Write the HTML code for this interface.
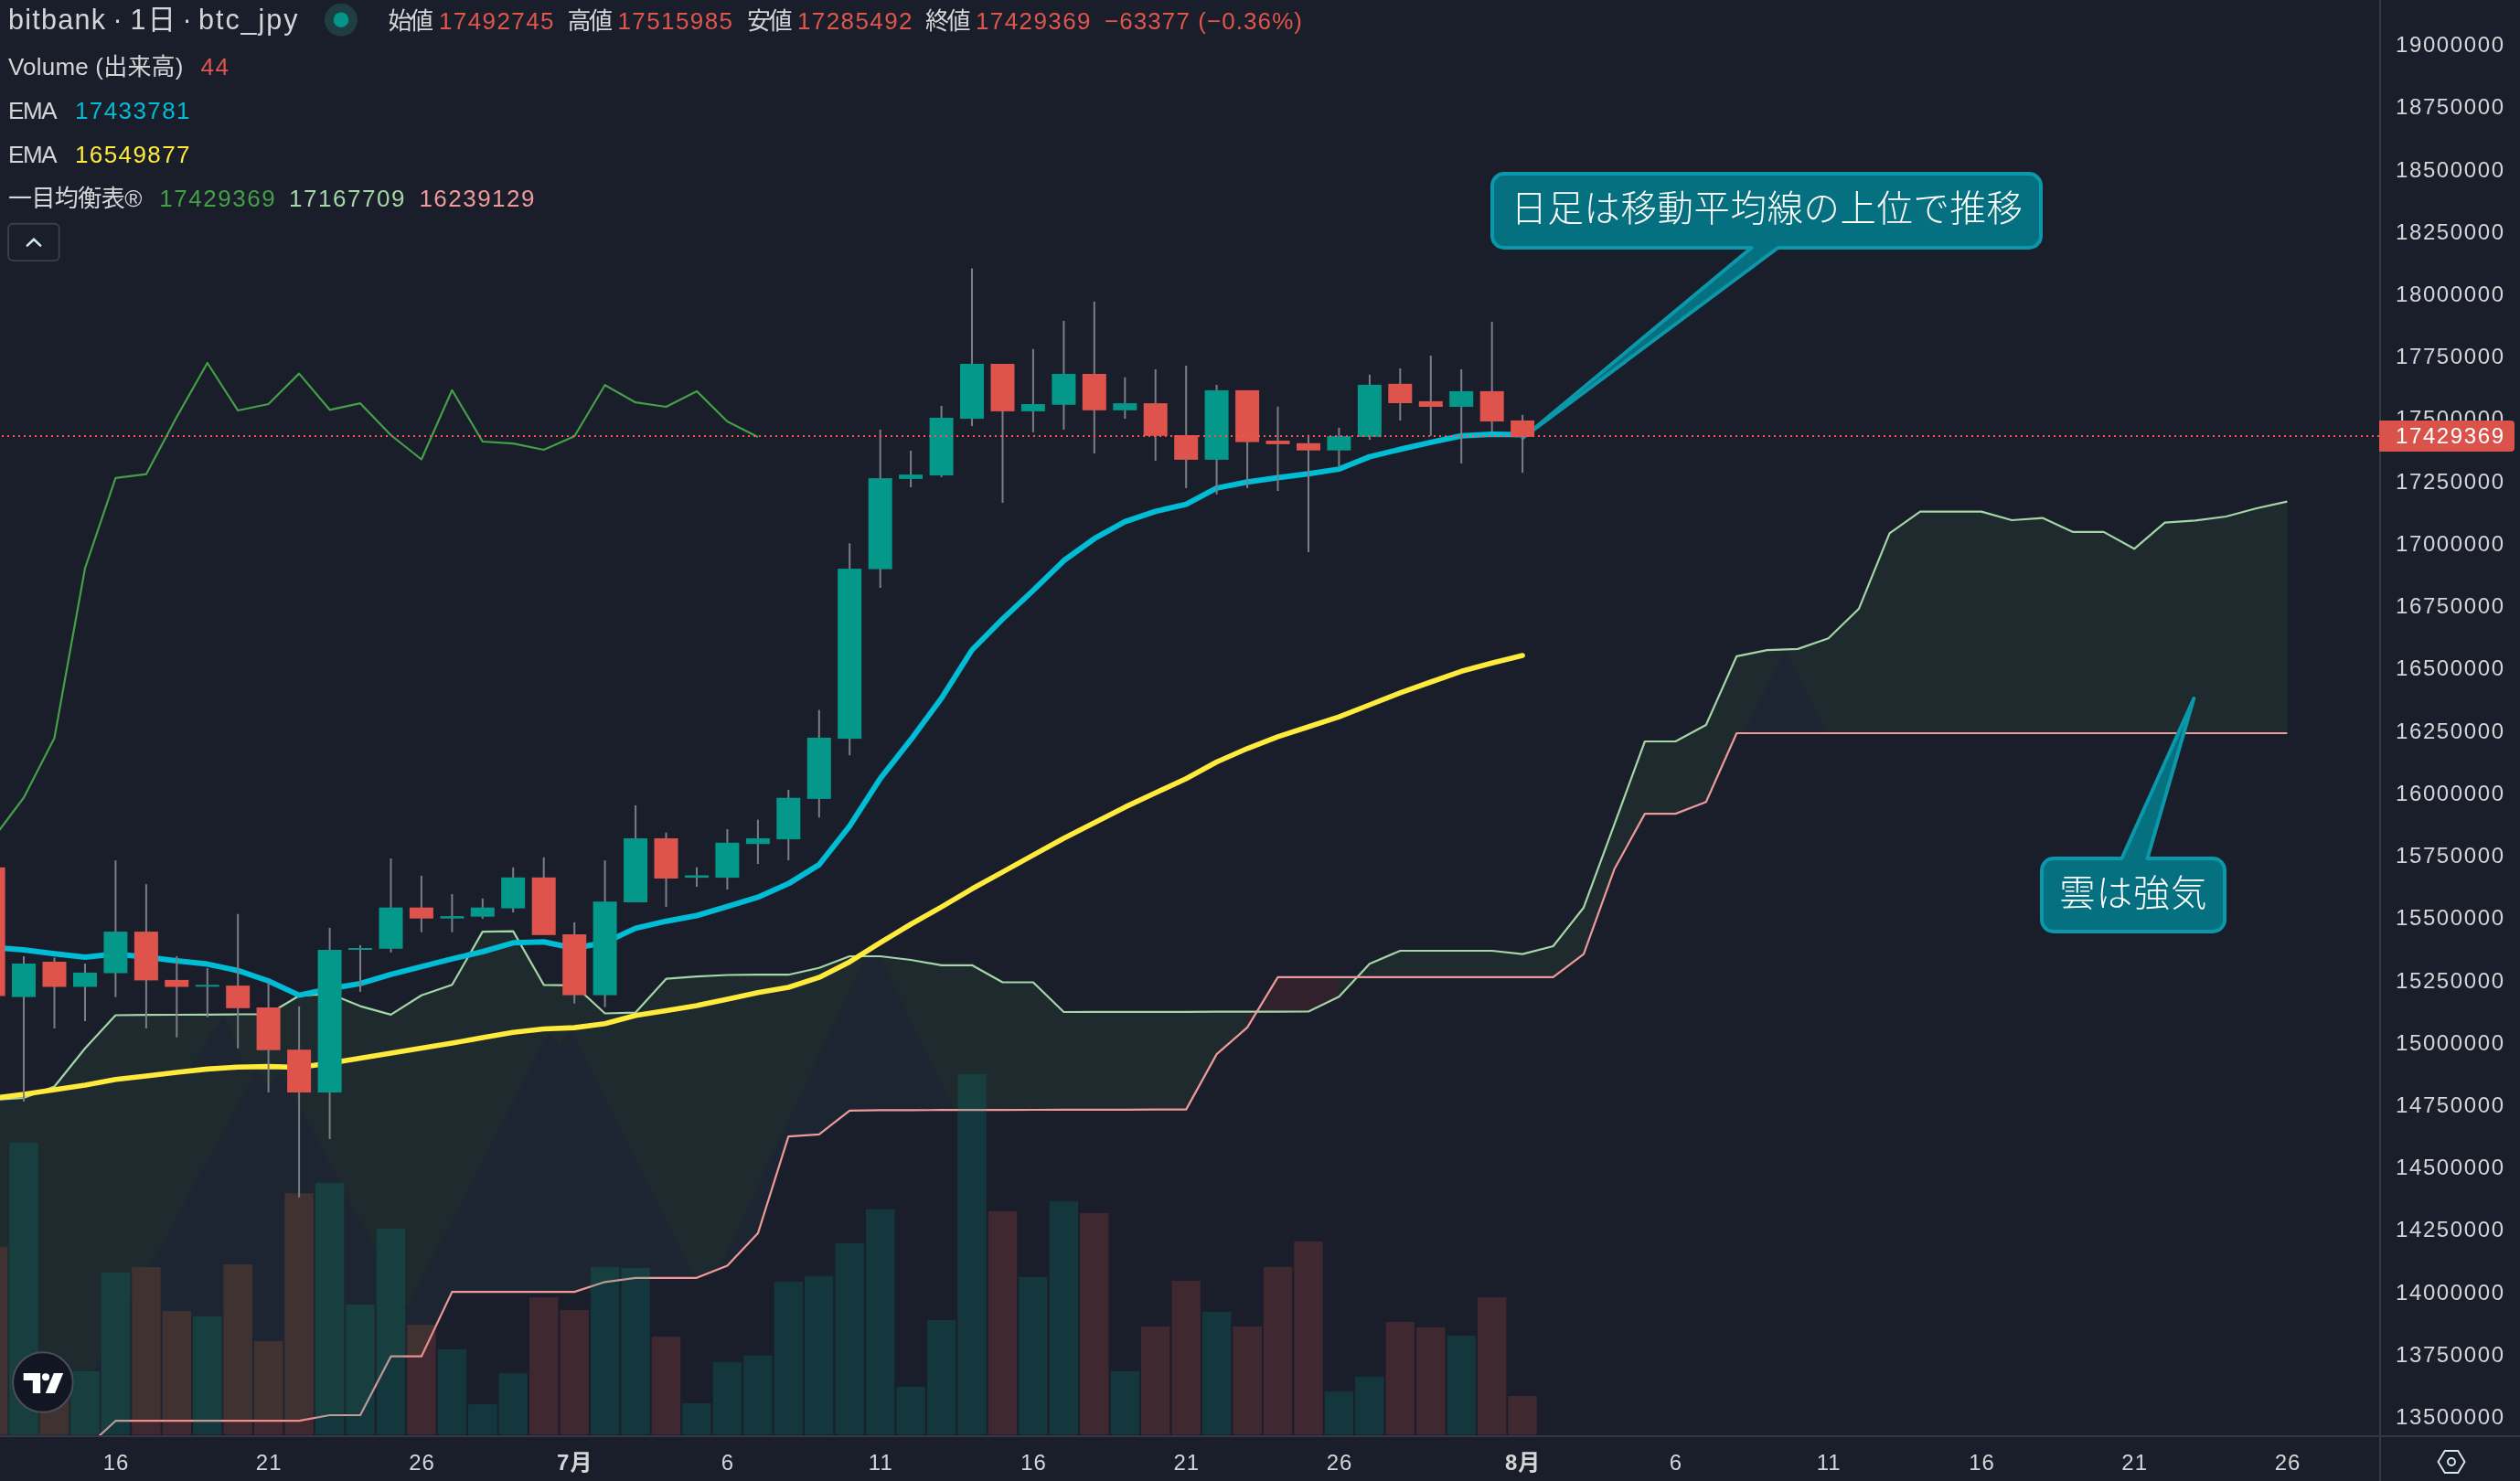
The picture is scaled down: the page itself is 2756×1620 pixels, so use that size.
<!DOCTYPE html>
<html lang="ja"><head><meta charset="utf-8"><title>bitbank btc_jpy</title>
<style>html,body{margin:0;padding:0;background:#1a1e2b}body{width:2756px;height:1620px}svg{display:block}text{font-family:"Liberation Sans","Noto Sans CJK JP",sans-serif}</style></head><body>
<div style="width:2756px;height:1620px;will-change:transform">
<svg width="2756" height="1620" viewBox="0 0 2756 1620">
<defs><clipPath id="pane"><rect x="0" y="0" width="2602" height="1570"/></clipPath>
<clipPath id="cloudclip"><polygon points="-7.4,1203.0 26.0,1201.0 59.5,1188.5 93.0,1146.8 126.4,1110.5 159.9,1110.2 193.3,1110.0 226.8,1109.8 260.2,1109.5 293.6,1109.3 327.1,1089.3 360.6,1087.0 394.0,1100.6 427.5,1109.9 460.9,1088.8 494.4,1077.3 527.8,1019.1 561.2,1018.6 594.7,1077.3 628.2,1077.8 661.6,1108.5 695.1,1107.6 728.5,1070.7 762.0,1068.2 795.4,1066.5 828.9,1066.2 862.3,1066.2 895.8,1058.8 929.2,1046.0 962.7,1046.0 996.1,1050.0 1029.6,1055.8 1063.0,1055.8 1096.5,1074.5 1129.9,1074.5 1163.4,1107.0 1196.8,1106.9 1230.3,1106.9 1263.7,1106.8 1297.2,1106.8 1330.6,1106.7 1364.1,1106.7 1397.5,1106.6 1431.0,1106.5 1464.4,1090.3 1497.9,1054.2 1531.3,1040.0 1564.8,1040.0 1598.2,1040.0 1631.7,1040.0 1665.1,1043.6 1698.6,1035.0 1732.0,992.7 1765.5,901.9 1798.9,811.0 1832.4,811.0 1865.8,793.0 1899.3,717.8 1932.7,711.1 1966.2,709.9 1999.6,698.2 2033.1,665.7 2066.5,583.4 2100.0,559.6 2133.4,559.6 2166.9,559.6 2200.3,569.0 2233.8,566.6 2267.2,581.9 2300.7,581.9 2334.1,600.3 2367.6,571.7 2401.0,569.3 2434.5,565.0 2467.9,556.0 2501.4,548.6 2501.4,802.0 2467.9,802.0 2434.5,802.0 2401.0,802.0 2367.6,802.0 2334.1,802.0 2300.7,802.0 2267.2,802.0 2233.8,802.0 2200.3,802.0 2166.9,802.0 2133.4,802.0 2100.0,802.0 2066.5,802.0 2033.1,802.0 1999.6,802.0 1966.2,802.0 1932.7,802.0 1899.3,802.0 1865.8,877.2 1832.4,890.1 1798.9,890.1 1765.5,950.8 1732.0,1043.6 1698.6,1068.9 1665.1,1068.9 1631.7,1068.9 1598.2,1068.9 1564.8,1068.9 1531.3,1068.9 1497.9,1068.9 1464.4,1068.9 1431.0,1068.9 1397.5,1068.9 1364.1,1123.9 1330.6,1153.1 1297.2,1213.6 1263.7,1213.7 1230.3,1213.8 1196.8,1213.8 1163.4,1213.9 1129.9,1214.0 1096.5,1214.1 1063.0,1214.2 1029.6,1214.2 996.1,1214.3 962.7,1214.4 929.2,1214.8 895.8,1240.8 862.3,1243.1 828.9,1349.1 795.4,1384.4 762.0,1397.8 728.5,1397.8 695.1,1397.8 661.6,1402.3 628.2,1413.1 594.7,1413.1 561.2,1413.1 527.8,1413.1 494.4,1413.1 460.9,1483.7 427.5,1483.7 394.0,1548.0 360.6,1548.0 327.1,1554.2 293.6,1554.2 260.2,1554.2 226.8,1554.2 193.3,1554.2 159.9,1554.2 126.4,1554.2 93.0,1585.0 59.5,1620.0 26.0,1660.0 -7.4,1700.0"/></clipPath>
<mask id="novol"><rect x="0" y="0" width="2756" height="1620" fill="#fff"/>
<rect x="-23.1" y="1363.7" width="31.4" height="205.6" fill="#000"/>
<rect x="10.3" y="1249.9" width="31.4" height="319.4" fill="#000"/>
<rect x="43.8" y="1510.0" width="31.4" height="59.3" fill="#000"/>
<rect x="77.2" y="1499.9" width="31.4" height="69.4" fill="#000"/>
<rect x="110.7" y="1392.0" width="31.4" height="177.3" fill="#000"/>
<rect x="144.2" y="1386.0" width="31.4" height="183.3" fill="#000"/>
<rect x="177.6" y="1434.0" width="31.4" height="135.3" fill="#000"/>
<rect x="211.1" y="1439.9" width="31.4" height="129.4" fill="#000"/>
<rect x="244.5" y="1382.9" width="31.4" height="186.4" fill="#000"/>
<rect x="277.9" y="1466.9" width="31.4" height="102.4" fill="#000"/>
<rect x="311.4" y="1305.2" width="31.4" height="264.1" fill="#000"/>
<rect x="344.9" y="1293.9" width="31.4" height="275.4" fill="#000"/>
<rect x="378.3" y="1426.9" width="31.4" height="142.4" fill="#000"/>
<rect x="411.8" y="1343.8" width="31.4" height="225.5" fill="#000"/>
<rect x="445.2" y="1449.2" width="31.4" height="120.1" fill="#000"/>
<rect x="478.7" y="1475.8" width="31.4" height="93.5" fill="#000"/>
<rect x="512.1" y="1536.1" width="31.4" height="33.2" fill="#000"/>
<rect x="545.5" y="1502.1" width="31.4" height="67.2" fill="#000"/>
<rect x="579.0" y="1419.0" width="31.4" height="150.3" fill="#000"/>
<rect x="612.5" y="1433.1" width="31.4" height="136.2" fill="#000"/>
<rect x="645.9" y="1386.1" width="31.4" height="183.2" fill="#000"/>
<rect x="679.4" y="1386.9" width="31.4" height="182.4" fill="#000"/>
<rect x="712.8" y="1462.1" width="31.4" height="107.2" fill="#000"/>
<rect x="746.2" y="1535.0" width="31.4" height="34.3" fill="#000"/>
<rect x="779.7" y="1489.9" width="31.4" height="79.4" fill="#000"/>
<rect x="813.1" y="1482.8" width="31.4" height="86.5" fill="#000"/>
<rect x="846.6" y="1401.9" width="31.4" height="167.4" fill="#000"/>
<rect x="880.0" y="1395.7" width="31.4" height="173.6" fill="#000"/>
<rect x="913.5" y="1360.0" width="31.4" height="209.3" fill="#000"/>
<rect x="947.0" y="1322.8" width="31.4" height="246.5" fill="#000"/>
<rect x="980.4" y="1516.8" width="31.4" height="52.5" fill="#000"/>
<rect x="1013.9" y="1443.9" width="31.4" height="125.4" fill="#000"/>
<rect x="1047.3" y="1174.9" width="31.4" height="394.4" fill="#000"/>
<rect x="1080.8" y="1324.9" width="31.4" height="244.4" fill="#000"/>
<rect x="1114.2" y="1396.9" width="31.4" height="172.4" fill="#000"/>
<rect x="1147.7" y="1313.9" width="31.4" height="255.4" fill="#000"/>
<rect x="1181.1" y="1326.8" width="31.4" height="242.5" fill="#000"/>
<rect x="1214.6" y="1499.9" width="31.4" height="69.4" fill="#000"/>
<rect x="1248.0" y="1450.9" width="31.4" height="118.4" fill="#000"/>
<rect x="1281.5" y="1400.9" width="31.4" height="168.4" fill="#000"/>
<rect x="1314.9" y="1434.9" width="31.4" height="134.4" fill="#000"/>
<rect x="1348.4" y="1450.9" width="31.4" height="118.4" fill="#000"/>
<rect x="1381.8" y="1385.9" width="31.4" height="183.4" fill="#000"/>
<rect x="1415.3" y="1358.0" width="31.4" height="211.3" fill="#000"/>
<rect x="1448.7" y="1522.1" width="31.4" height="47.2" fill="#000"/>
<rect x="1482.2" y="1505.8" width="31.4" height="63.5" fill="#000"/>
<rect x="1515.6" y="1446.0" width="31.4" height="123.3" fill="#000"/>
<rect x="1549.1" y="1451.9" width="31.4" height="117.4" fill="#000"/>
<rect x="1582.5" y="1461.0" width="31.4" height="108.3" fill="#000"/>
<rect x="1616.0" y="1418.9" width="31.4" height="150.4" fill="#000"/>
<rect x="1649.4" y="1527.0" width="31.4" height="42.3" fill="#000"/>
</mask>
</defs>
<g clip-path="url(#pane)">
<polygon points="-7.4,1203.0 26.0,1201.0 59.5,1188.5 93.0,1146.8 126.4,1110.5 159.9,1110.2 193.3,1110.0 226.8,1109.8 260.2,1109.5 293.6,1109.3 327.1,1089.3 360.6,1087.0 394.0,1100.6 427.5,1109.9 460.9,1088.8 494.4,1077.3 527.8,1019.1 561.2,1018.6 594.7,1077.3 628.2,1077.8 661.6,1108.5 695.1,1107.6 728.5,1070.7 762.0,1068.2 795.4,1066.5 828.9,1066.2 862.3,1066.2 895.8,1058.8 929.2,1046.0 962.7,1046.0 996.1,1050.0 1029.6,1055.8 1063.0,1055.8 1096.5,1074.5 1129.9,1074.5 1163.4,1107.0 1196.8,1106.9 1230.3,1106.9 1263.7,1106.8 1297.2,1106.8 1330.6,1106.7 1364.1,1106.7 1364.1,1123.9 1330.6,1153.1 1297.2,1213.6 1263.7,1213.7 1230.3,1213.8 1196.8,1213.8 1163.4,1213.9 1129.9,1214.0 1096.5,1214.1 1063.0,1214.2 1029.6,1214.2 996.1,1214.3 962.7,1214.4 929.2,1214.8 895.8,1240.8 862.3,1243.1 828.9,1349.1 795.4,1384.4 762.0,1397.8 728.5,1397.8 695.1,1397.8 661.6,1402.3 628.2,1413.1 594.7,1413.1 561.2,1413.1 527.8,1413.1 494.4,1413.1 460.9,1483.7 427.5,1483.7 394.0,1548.0 360.6,1548.0 327.1,1554.2 293.6,1554.2 260.2,1554.2 226.8,1554.2 193.3,1554.2 159.9,1554.2 126.4,1554.2 93.0,1585.0 59.5,1620.0 26.0,1660.0 -7.4,1700.0" fill="rgba(67,160,71,0.1)"/>
<polygon points="1364.1,1106.7 1397.5,1106.6 1431.0,1106.5 1464.4,1090.3 1464.4,1068.9 1431.0,1068.9 1397.5,1068.9 1364.1,1123.9" fill="rgba(244,67,54,0.1)"/>
<polygon points="1464.4,1090.3 1497.9,1054.2 1531.3,1040.0 1564.8,1040.0 1598.2,1040.0 1631.7,1040.0 1665.1,1043.6 1698.6,1035.0 1732.0,992.7 1765.5,901.9 1798.9,811.0 1832.4,811.0 1865.8,793.0 1899.3,717.8 1932.7,711.1 1966.2,709.9 1999.6,698.2 2033.1,665.7 2066.5,583.4 2100.0,559.6 2133.4,559.6 2166.9,559.6 2200.3,569.0 2233.8,566.6 2267.2,581.9 2300.7,581.9 2334.1,600.3 2367.6,571.7 2401.0,569.3 2434.5,565.0 2467.9,556.0 2501.4,548.6 2501.4,802.0 2467.9,802.0 2434.5,802.0 2401.0,802.0 2367.6,802.0 2334.1,802.0 2300.7,802.0 2267.2,802.0 2233.8,802.0 2200.3,802.0 2166.9,802.0 2133.4,802.0 2100.0,802.0 2066.5,802.0 2033.1,802.0 1999.6,802.0 1966.2,802.0 1932.7,802.0 1899.3,802.0 1865.8,877.2 1832.4,890.1 1798.9,890.1 1765.5,950.8 1732.0,1043.6 1698.6,1068.9 1665.1,1068.9 1631.7,1068.9 1598.2,1068.9 1564.8,1068.9 1531.3,1068.9 1497.9,1068.9 1464.4,1068.9" fill="rgba(67,160,71,0.1)"/>
<g clip-path="url(#cloudclip)" mask="url(#novol)" fill="rgba(22,27,58,0.27)">
<path d="M244.8,1110.7 L208.3,1167.8 L266.7,1162.9 Z M280.7,1171 L294,1190 L306.8,1172.5 L552.4,1630 L30.6,1630 Z M600.3,1129.3 L612.5,1145 L624.7,1128 L878,1630 L342,1630 Z M945.9,1047.4 L962.9,1047.4 L1245,1630 L673.7,1630 Z M1953.3,711.5 L1899,820 L2007,820 Z"/>
</g>
<polyline points="-7.4,1203.0 26.0,1201.0 59.5,1188.5 93.0,1146.8 126.4,1110.5 159.9,1110.2 193.3,1110.0 226.8,1109.8 260.2,1109.5 293.6,1109.3 327.1,1089.3 360.6,1087.0 394.0,1100.6 427.5,1109.9 460.9,1088.8 494.4,1077.3 527.8,1019.1 561.2,1018.6 594.7,1077.3 628.2,1077.8 661.6,1108.5 695.1,1107.6 728.5,1070.7 762.0,1068.2 795.4,1066.5 828.9,1066.2 862.3,1066.2 895.8,1058.8 929.2,1046.0 962.7,1046.0 996.1,1050.0 1029.6,1055.8 1063.0,1055.8 1096.5,1074.5 1129.9,1074.5 1163.4,1107.0 1196.8,1106.9 1230.3,1106.9 1263.7,1106.8 1297.2,1106.8 1330.6,1106.7 1364.1,1106.7 1397.5,1106.6 1431.0,1106.5 1464.4,1090.3 1497.9,1054.2 1531.3,1040.0 1564.8,1040.0 1598.2,1040.0 1631.7,1040.0 1665.1,1043.6 1698.6,1035.0 1732.0,992.7 1765.5,901.9 1798.9,811.0 1832.4,811.0 1865.8,793.0 1899.3,717.8 1932.7,711.1 1966.2,709.9 1999.6,698.2 2033.1,665.7 2066.5,583.4 2100.0,559.6 2133.4,559.6 2166.9,559.6 2200.3,569.0 2233.8,566.6 2267.2,581.9 2300.7,581.9 2334.1,600.3 2367.6,571.7 2401.0,569.3 2434.5,565.0 2467.9,556.0 2501.4,548.6" fill="none" stroke="#a5d6a7" stroke-width="2.2" stroke-linejoin="round"/>
<polyline points="-7.4,1700.0 26.0,1660.0 59.5,1620.0 93.0,1585.0 126.4,1554.2 159.9,1554.2 193.3,1554.2 226.8,1554.2 260.2,1554.2 293.6,1554.2 327.1,1554.2 360.6,1548.0 394.0,1548.0 427.5,1483.7 460.9,1483.7 494.4,1413.1 527.8,1413.1 561.2,1413.1 594.7,1413.1 628.2,1413.1 661.6,1402.3 695.1,1397.8 728.5,1397.8 762.0,1397.8 795.4,1384.4 828.9,1349.1 862.3,1243.1 895.8,1240.8 929.2,1214.8 962.7,1214.4 996.1,1214.3 1029.6,1214.2 1063.0,1214.2 1096.5,1214.1 1129.9,1214.0 1163.4,1213.9 1196.8,1213.8 1230.3,1213.8 1263.7,1213.7 1297.2,1213.6 1330.6,1153.1 1364.1,1123.9 1397.5,1068.9 1431.0,1068.9 1464.4,1068.9 1497.9,1068.9 1531.3,1068.9 1564.8,1068.9 1598.2,1068.9 1631.7,1068.9 1665.1,1068.9 1698.6,1068.9 1732.0,1043.6 1765.5,950.8 1798.9,890.1 1832.4,890.1 1865.8,877.2 1899.3,802.0 1932.7,802.0 1966.2,802.0 1999.6,802.0 2033.1,802.0 2066.5,802.0 2100.0,802.0 2133.4,802.0 2166.9,802.0 2200.3,802.0 2233.8,802.0 2267.2,802.0 2300.7,802.0 2334.1,802.0 2367.6,802.0 2401.0,802.0 2434.5,802.0 2467.9,802.0 2501.4,802.0" fill="none" stroke="#ef9a9a" stroke-width="2.2" stroke-linejoin="round"/>
<polyline points="-7.4,917.0 26.0,872.5 59.5,807.2 93.0,621.5 126.4,522.9 159.9,518.7 193.3,456.0 226.8,397.0 260.2,449.0 293.6,442.0 327.1,408.6 360.6,448.3 394.0,441.2 427.5,476.0 460.9,502.5 494.4,426.8 527.8,483.0 561.2,485.2 594.7,492.0 628.2,477.2 661.6,421.2 695.1,440.2 728.5,445.0 762.0,427.9 795.4,461.0 828.9,477.9" fill="none" stroke="#43a047" stroke-width="2.2" stroke-linejoin="round"/>
<rect x="-23.1" y="1363.7" width="31.4" height="205.6" fill="rgba(224,83,76,0.19)"/>
<rect x="10.3" y="1249.9" width="31.4" height="319.4" fill="rgba(0,150,136,0.2)"/>
<rect x="43.8" y="1510.0" width="31.4" height="59.3" fill="rgba(224,83,76,0.19)"/>
<rect x="77.2" y="1499.9" width="31.4" height="69.4" fill="rgba(0,150,136,0.2)"/>
<rect x="110.7" y="1392.0" width="31.4" height="177.3" fill="rgba(0,150,136,0.2)"/>
<rect x="144.2" y="1386.0" width="31.4" height="183.3" fill="rgba(224,83,76,0.19)"/>
<rect x="177.6" y="1434.0" width="31.4" height="135.3" fill="rgba(224,83,76,0.19)"/>
<rect x="211.1" y="1439.9" width="31.4" height="129.4" fill="rgba(0,150,136,0.2)"/>
<rect x="244.5" y="1382.9" width="31.4" height="186.4" fill="rgba(224,83,76,0.19)"/>
<rect x="277.9" y="1466.9" width="31.4" height="102.4" fill="rgba(224,83,76,0.19)"/>
<rect x="311.4" y="1305.2" width="31.4" height="264.1" fill="rgba(224,83,76,0.19)"/>
<rect x="344.9" y="1293.9" width="31.4" height="275.4" fill="rgba(0,150,136,0.2)"/>
<rect x="378.3" y="1426.9" width="31.4" height="142.4" fill="rgba(0,150,136,0.2)"/>
<rect x="411.8" y="1343.8" width="31.4" height="225.5" fill="rgba(0,150,136,0.2)"/>
<rect x="445.2" y="1449.2" width="31.4" height="120.1" fill="rgba(224,83,76,0.19)"/>
<rect x="478.7" y="1475.8" width="31.4" height="93.5" fill="rgba(0,150,136,0.2)"/>
<rect x="512.1" y="1536.1" width="31.4" height="33.2" fill="rgba(0,150,136,0.2)"/>
<rect x="545.5" y="1502.1" width="31.4" height="67.2" fill="rgba(0,150,136,0.2)"/>
<rect x="579.0" y="1419.0" width="31.4" height="150.3" fill="rgba(224,83,76,0.19)"/>
<rect x="612.5" y="1433.1" width="31.4" height="136.2" fill="rgba(224,83,76,0.19)"/>
<rect x="645.9" y="1386.1" width="31.4" height="183.2" fill="rgba(0,150,136,0.2)"/>
<rect x="679.4" y="1386.9" width="31.4" height="182.4" fill="rgba(0,150,136,0.2)"/>
<rect x="712.8" y="1462.1" width="31.4" height="107.2" fill="rgba(224,83,76,0.19)"/>
<rect x="746.2" y="1535.0" width="31.4" height="34.3" fill="rgba(0,150,136,0.2)"/>
<rect x="779.7" y="1489.9" width="31.4" height="79.4" fill="rgba(0,150,136,0.2)"/>
<rect x="813.1" y="1482.8" width="31.4" height="86.5" fill="rgba(0,150,136,0.2)"/>
<rect x="846.6" y="1401.9" width="31.4" height="167.4" fill="rgba(0,150,136,0.2)"/>
<rect x="880.0" y="1395.7" width="31.4" height="173.6" fill="rgba(0,150,136,0.2)"/>
<rect x="913.5" y="1360.0" width="31.4" height="209.3" fill="rgba(0,150,136,0.2)"/>
<rect x="947.0" y="1322.8" width="31.4" height="246.5" fill="rgba(0,150,136,0.2)"/>
<rect x="980.4" y="1516.8" width="31.4" height="52.5" fill="rgba(0,150,136,0.2)"/>
<rect x="1013.9" y="1443.9" width="31.4" height="125.4" fill="rgba(0,150,136,0.2)"/>
<rect x="1047.3" y="1174.9" width="31.4" height="394.4" fill="rgba(0,150,136,0.2)"/>
<rect x="1080.8" y="1324.9" width="31.4" height="244.4" fill="rgba(224,83,76,0.19)"/>
<rect x="1114.2" y="1396.9" width="31.4" height="172.4" fill="rgba(0,150,136,0.2)"/>
<rect x="1147.7" y="1313.9" width="31.4" height="255.4" fill="rgba(0,150,136,0.2)"/>
<rect x="1181.1" y="1326.8" width="31.4" height="242.5" fill="rgba(224,83,76,0.19)"/>
<rect x="1214.6" y="1499.9" width="31.4" height="69.4" fill="rgba(0,150,136,0.2)"/>
<rect x="1248.0" y="1450.9" width="31.4" height="118.4" fill="rgba(224,83,76,0.19)"/>
<rect x="1281.5" y="1400.9" width="31.4" height="168.4" fill="rgba(224,83,76,0.19)"/>
<rect x="1314.9" y="1434.9" width="31.4" height="134.4" fill="rgba(0,150,136,0.2)"/>
<rect x="1348.4" y="1450.9" width="31.4" height="118.4" fill="rgba(224,83,76,0.19)"/>
<rect x="1381.8" y="1385.9" width="31.4" height="183.4" fill="rgba(224,83,76,0.19)"/>
<rect x="1415.3" y="1358.0" width="31.4" height="211.3" fill="rgba(224,83,76,0.19)"/>
<rect x="1448.7" y="1522.1" width="31.4" height="47.2" fill="rgba(0,150,136,0.2)"/>
<rect x="1482.2" y="1505.8" width="31.4" height="63.5" fill="rgba(0,150,136,0.2)"/>
<rect x="1515.6" y="1446.0" width="31.4" height="123.3" fill="rgba(224,83,76,0.19)"/>
<rect x="1549.1" y="1451.9" width="31.4" height="117.4" fill="rgba(224,83,76,0.19)"/>
<rect x="1582.5" y="1461.0" width="31.4" height="108.3" fill="rgba(0,150,136,0.2)"/>
<rect x="1616.0" y="1418.9" width="31.4" height="150.4" fill="rgba(224,83,76,0.19)"/>
<rect x="1649.4" y="1527.0" width="31.4" height="42.3" fill="rgba(224,83,76,0.19)"/>
<polyline points="-7.4,1201.3 26.0,1197.0 59.5,1192.0 93.0,1187.0 126.4,1180.8 159.9,1177.0 193.3,1173.0 226.8,1169.4 260.2,1167.2 293.6,1166.6 327.1,1167.5 360.6,1163.0 394.0,1157.5 427.5,1151.9 460.9,1146.5 494.4,1141.1 527.8,1135.0 561.2,1129.2 594.7,1125.5 628.2,1124.1 661.6,1119.8 695.1,1110.7 728.5,1105.4 762.0,1099.9 795.4,1093.0 828.9,1085.7 862.3,1080.0 895.8,1069.2 929.2,1052.2 962.7,1031.2 996.1,1011.0 1029.6,992.1 1063.0,972.3 1096.5,953.9 1129.9,935.4 1163.4,917.0 1196.8,900.0 1230.3,882.9 1263.7,867.3 1297.2,851.7 1330.6,833.5 1364.1,818.8 1397.5,805.8 1431.0,795.0 1464.4,784.2 1497.9,771.0 1531.3,757.8 1564.8,746.0 1598.2,734.3 1631.7,725.3 1665.1,717.0" fill="none" stroke="#ffeb3b" stroke-width="5.6" stroke-linejoin="round" stroke-linecap="round"/>
<polyline points="-7.4,1036.5 26.0,1039.0 59.5,1043.2 93.0,1046.9 126.4,1043.5 159.9,1047.0 193.3,1050.9 226.8,1054.6 260.2,1061.7 293.6,1073.0 327.1,1088.6 360.6,1081.5 394.0,1075.9 427.5,1065.9 460.9,1057.4 494.4,1048.9 527.8,1041.0 561.2,1031.3 594.7,1030.2 628.2,1037.3 661.6,1031.0 695.1,1015.4 728.5,1007.7 762.0,1001.5 795.4,991.6 828.9,981.4 862.3,966.6 895.8,945.9 929.2,903.6 962.7,851.7 996.1,809.2 1029.6,763.8 1063.0,711.0 1096.5,677.1 1129.9,645.9 1163.4,613.3 1196.8,589.2 1230.3,570.7 1263.7,559.4 1297.2,551.7 1330.6,533.9 1364.1,527.3 1397.5,522.5 1431.0,518.3 1464.4,513.1 1497.9,499.6 1531.3,491.5 1564.8,483.9 1598.2,476.8 1631.7,474.9 1665.1,475.5" fill="none" stroke="#00bcd4" stroke-width="6" stroke-linejoin="round" stroke-linecap="round"/>
<path d="M1645,190 H2219 A13,13 0 0 1 2232,203 V258 A13,13 0 0 1 2219,271 H1944.5 L1665.5,479 L1915.5,271 H1645 A13,13 0 0 1 1632,258 V203 A13,13 0 0 1 1645,190 Z" fill="#057180" stroke="#0a98aa" stroke-width="4" stroke-linejoin="round"/>
<path d="M2246,939 H2320.5 L2399.3,764 L2348.5,939 H2420 A13,13 0 0 1 2433,952 V1006 A13,13 0 0 1 2420,1019 H2246 A13,13 0 0 1 2233,1006 V952 A13,13 0 0 1 2246,939 Z" fill="#057180" stroke="#0a98aa" stroke-width="4" stroke-linejoin="round"/>
<text x="1652.5" y="242.3" font-size="39.4" font-weight="300" fill="#fff" textLength="559.5">日足は移動平均線の上位で推移</text>
<text x="2252.3" y="991.3" font-size="39.4" font-weight="300" fill="#fff" textLength="161">雲は強気</text>
<rect x="-8.4" y="948.8" width="2" height="140.7" fill="#7b7d85"/>
<rect x="-20.4" y="948.8" width="26" height="140.7" fill="#de544c"/>
<rect x="25.0" y="1046.0" width="2" height="158.9" fill="#7b7d85"/>
<rect x="13.0" y="1054.0" width="26" height="36.6" fill="#04988a"/>
<rect x="58.5" y="1047.5" width="2" height="77.4" fill="#7b7d85"/>
<rect x="46.5" y="1052.0" width="26" height="27.5" fill="#de544c"/>
<rect x="92.0" y="1054.0" width="2" height="63.0" fill="#7b7d85"/>
<rect x="80.0" y="1063.9" width="26" height="15.6" fill="#04988a"/>
<rect x="125.4" y="941.1" width="2" height="149.5" fill="#7b7d85"/>
<rect x="113.4" y="1019.1" width="26" height="45.4" fill="#04988a"/>
<rect x="158.9" y="967.2" width="2" height="157.7" fill="#7b7d85"/>
<rect x="146.9" y="1019.1" width="26" height="53.3" fill="#de544c"/>
<rect x="192.3" y="1046.0" width="2" height="88.8" fill="#7b7d85"/>
<rect x="180.3" y="1071.9" width="26" height="7.6" fill="#de544c"/>
<rect x="225.8" y="1059.1" width="2" height="53.6" fill="#7b7d85"/>
<rect x="213.8" y="1077.3" width="26" height="2.0" fill="#04988a"/>
<rect x="259.2" y="999.8" width="2" height="147.0" fill="#7b7d85"/>
<rect x="247.2" y="1078.1" width="26" height="24.7" fill="#de544c"/>
<rect x="292.6" y="1074.4" width="2" height="120.6" fill="#7b7d85"/>
<rect x="280.6" y="1102.0" width="26" height="46.7" fill="#de544c"/>
<rect x="326.1" y="1100.8" width="2" height="209.0" fill="#7b7d85"/>
<rect x="314.1" y="1148.2" width="26" height="46.8" fill="#de544c"/>
<rect x="359.6" y="1014.9" width="2" height="231.1" fill="#7b7d85"/>
<rect x="347.6" y="1039.0" width="26" height="156.0" fill="#04988a"/>
<rect x="393.0" y="1033.9" width="2" height="51.0" fill="#7b7d85"/>
<rect x="381.0" y="1037.0" width="26" height="2.0" fill="#04988a"/>
<rect x="426.5" y="939.1" width="2" height="102.7" fill="#7b7d85"/>
<rect x="414.5" y="992.7" width="26" height="45.1" fill="#04988a"/>
<rect x="459.9" y="957.9" width="2" height="61.8" fill="#7b7d85"/>
<rect x="447.9" y="992.7" width="26" height="12.0" fill="#de544c"/>
<rect x="493.4" y="978.0" width="2" height="41.7" fill="#7b7d85"/>
<rect x="481.4" y="1002.1" width="26" height="2.6" fill="#04988a"/>
<rect x="526.8" y="982.8" width="2" height="22.1" fill="#7b7d85"/>
<rect x="514.8" y="992.7" width="26" height="10.0" fill="#04988a"/>
<rect x="560.2" y="948.8" width="2" height="49.3" fill="#7b7d85"/>
<rect x="548.2" y="959.8" width="26" height="33.8" fill="#04988a"/>
<rect x="593.7" y="937.7" width="2" height="85.1" fill="#7b7d85"/>
<rect x="581.7" y="959.8" width="26" height="63.0" fill="#de544c"/>
<rect x="627.2" y="1008.9" width="2" height="88.8" fill="#7b7d85"/>
<rect x="615.2" y="1022.0" width="26" height="66.6" fill="#de544c"/>
<rect x="660.6" y="941.1" width="2" height="160.5" fill="#7b7d85"/>
<rect x="648.6" y="986.2" width="26" height="102.4" fill="#04988a"/>
<rect x="694.1" y="881.0" width="2" height="106.0" fill="#7b7d85"/>
<rect x="682.1" y="917.0" width="26" height="70.0" fill="#04988a"/>
<rect x="727.5" y="910.7" width="2" height="81.4" fill="#7b7d85"/>
<rect x="715.5" y="917.0" width="26" height="44.0" fill="#de544c"/>
<rect x="761.0" y="948.7" width="2" height="21.3" fill="#7b7d85"/>
<rect x="749.0" y="957.5" width="26" height="2.6" fill="#04988a"/>
<rect x="794.4" y="907.0" width="2" height="66.1" fill="#7b7d85"/>
<rect x="782.4" y="921.8" width="26" height="38.3" fill="#04988a"/>
<rect x="827.9" y="896.6" width="2" height="48.4" fill="#7b7d85"/>
<rect x="815.9" y="917.0" width="26" height="6.2" fill="#04988a"/>
<rect x="861.3" y="863.9" width="2" height="77.2" fill="#7b7d85"/>
<rect x="849.3" y="872.7" width="26" height="45.4" fill="#04988a"/>
<rect x="894.8" y="776.6" width="2" height="117.7" fill="#7b7d85"/>
<rect x="882.8" y="806.9" width="26" height="67.0" fill="#04988a"/>
<rect x="928.2" y="594.3" width="2" height="231.9" fill="#7b7d85"/>
<rect x="916.2" y="622.1" width="26" height="186.0" fill="#04988a"/>
<rect x="961.7" y="470.0" width="2" height="173.0" fill="#7b7d85"/>
<rect x="949.7" y="523.1" width="26" height="99.5" fill="#04988a"/>
<rect x="995.1" y="493.0" width="2" height="40.0" fill="#7b7d85"/>
<rect x="983.1" y="519.1" width="26" height="4.8" fill="#04988a"/>
<rect x="1028.6" y="443.9" width="2" height="78.0" fill="#7b7d85"/>
<rect x="1016.6" y="457.0" width="26" height="63.0" fill="#04988a"/>
<rect x="1062.0" y="293.6" width="2" height="172.5" fill="#7b7d85"/>
<rect x="1050.0" y="398.0" width="26" height="60.1" fill="#04988a"/>
<rect x="1095.5" y="398.0" width="2" height="152.0" fill="#7b7d85"/>
<rect x="1083.5" y="398.0" width="26" height="51.9" fill="#de544c"/>
<rect x="1128.9" y="381.8" width="2" height="91.1" fill="#7b7d85"/>
<rect x="1116.9" y="442.0" width="26" height="7.9" fill="#04988a"/>
<rect x="1162.4" y="350.9" width="2" height="119.1" fill="#7b7d85"/>
<rect x="1150.4" y="409.0" width="26" height="33.8" fill="#04988a"/>
<rect x="1195.8" y="329.9" width="2" height="166.2" fill="#7b7d85"/>
<rect x="1183.8" y="409.0" width="26" height="39.8" fill="#de544c"/>
<rect x="1229.3" y="412.7" width="2" height="45.4" fill="#7b7d85"/>
<rect x="1217.3" y="441.1" width="26" height="7.7" fill="#04988a"/>
<rect x="1262.7" y="403.9" width="2" height="100.2" fill="#7b7d85"/>
<rect x="1250.7" y="441.1" width="26" height="35.7" fill="#de544c"/>
<rect x="1296.2" y="400.0" width="2" height="133.9" fill="#7b7d85"/>
<rect x="1284.2" y="476.0" width="26" height="26.9" fill="#de544c"/>
<rect x="1329.6" y="421.0" width="2" height="119.9" fill="#7b7d85"/>
<rect x="1317.6" y="426.9" width="26" height="76.0" fill="#04988a"/>
<rect x="1363.1" y="426.9" width="2" height="107.0" fill="#7b7d85"/>
<rect x="1351.1" y="426.9" width="26" height="56.7" fill="#de544c"/>
<rect x="1396.5" y="444.8" width="2" height="92.2" fill="#7b7d85"/>
<rect x="1384.5" y="482.0" width="26" height="3.9" fill="#de544c"/>
<rect x="1430.0" y="475.7" width="2" height="128.2" fill="#7b7d85"/>
<rect x="1418.0" y="484.8" width="26" height="7.9" fill="#de544c"/>
<rect x="1463.4" y="467.8" width="2" height="43.4" fill="#7b7d85"/>
<rect x="1451.4" y="477.1" width="26" height="15.6" fill="#04988a"/>
<rect x="1496.9" y="409.8" width="2" height="71.2" fill="#7b7d85"/>
<rect x="1484.9" y="420.9" width="26" height="57.0" fill="#04988a"/>
<rect x="1530.3" y="403.0" width="2" height="57.0" fill="#7b7d85"/>
<rect x="1518.3" y="419.8" width="26" height="21.2" fill="#de544c"/>
<rect x="1563.8" y="389.0" width="2" height="87.8" fill="#7b7d85"/>
<rect x="1551.8" y="438.9" width="26" height="6.1" fill="#de544c"/>
<rect x="1597.2" y="403.9" width="2" height="103.1" fill="#7b7d85"/>
<rect x="1585.2" y="427.9" width="26" height="17.1" fill="#04988a"/>
<rect x="1630.7" y="352.0" width="2" height="120.0" fill="#7b7d85"/>
<rect x="1618.7" y="427.9" width="26" height="33.1" fill="#de544c"/>
<rect x="1664.1" y="453.8" width="2" height="63.4" fill="#7b7d85"/>
<rect x="1652.1" y="459.9" width="26" height="18.0" fill="#de544c"/>
<line x1="2" y1="477" x2="2602" y2="477" stroke="#f7534b" stroke-width="2" stroke-dasharray="2 4"/>
</g>
<rect x="2602" y="0" width="2" height="1620" fill="#343844"/>
<rect x="0" y="1570" width="2756" height="2" fill="#343844"/>
<text x="2620" y="57.1" font-size="24" fill="#d5d5d7" textLength="118">19000000</text>
<text x="2620" y="125.3" font-size="24" fill="#d5d5d7" textLength="118">18750000</text>
<text x="2620" y="193.5" font-size="24" fill="#d5d5d7" textLength="118">18500000</text>
<text x="2620" y="261.8" font-size="24" fill="#d5d5d7" textLength="118">18250000</text>
<text x="2620" y="330.0" font-size="24" fill="#d5d5d7" textLength="118">18000000</text>
<text x="2620" y="398.2" font-size="24" fill="#d5d5d7" textLength="118">17750000</text>
<text x="2620" y="466.4" font-size="24" fill="#d5d5d7" textLength="118">17500000</text>
<text x="2620" y="534.7" font-size="24" fill="#d5d5d7" textLength="118">17250000</text>
<text x="2620" y="602.9" font-size="24" fill="#d5d5d7" textLength="118">17000000</text>
<text x="2620" y="671.1" font-size="24" fill="#d5d5d7" textLength="118">16750000</text>
<text x="2620" y="739.4" font-size="24" fill="#d5d5d7" textLength="118">16500000</text>
<text x="2620" y="807.6" font-size="24" fill="#d5d5d7" textLength="118">16250000</text>
<text x="2620" y="875.8" font-size="24" fill="#d5d5d7" textLength="118">16000000</text>
<text x="2620" y="944.0" font-size="24" fill="#d5d5d7" textLength="118">15750000</text>
<text x="2620" y="1012.2" font-size="24" fill="#d5d5d7" textLength="118">15500000</text>
<text x="2620" y="1080.5" font-size="24" fill="#d5d5d7" textLength="118">15250000</text>
<text x="2620" y="1148.7" font-size="24" fill="#d5d5d7" textLength="118">15000000</text>
<text x="2620" y="1216.9" font-size="24" fill="#d5d5d7" textLength="118">14750000</text>
<text x="2620" y="1285.2" font-size="24" fill="#d5d5d7" textLength="118">14500000</text>
<text x="2620" y="1353.4" font-size="24" fill="#d5d5d7" textLength="118">14250000</text>
<text x="2620" y="1421.6" font-size="24" fill="#d5d5d7" textLength="118">14000000</text>
<text x="2620" y="1489.8" font-size="24" fill="#d5d5d7" textLength="118">13750000</text>
<text x="2620" y="1558.0" font-size="24" fill="#d5d5d7" textLength="118">13500000</text>
<path d="M2602 460 H2746 a4 4 0 0 1 4 4 V490 a4 4 0 0 1 -4 4 H2602 Z" fill="#d9534b"/>
<text x="2620" y="485.4" font-size="24" fill="#fff" textLength="118">17429369</text>
<text x="127.0" y="1607.7" font-size="24" fill="#d5d5d7" text-anchor="middle" letter-spacing="1">16</text>
<text x="294.2" y="1607.7" font-size="24" fill="#d5d5d7" text-anchor="middle" letter-spacing="1">21</text>
<text x="461.5" y="1607.7" font-size="24" fill="#d5d5d7" text-anchor="middle" letter-spacing="1">26</text>
<text x="628.8" y="1607.7" font-size="24" fill="#d5d5d7" text-anchor="middle" letter-spacing="1" font-weight="700">7月</text>
<text x="796.0" y="1607.7" font-size="24" fill="#d5d5d7" text-anchor="middle" letter-spacing="1">6</text>
<text x="963.3" y="1607.7" font-size="24" fill="#d5d5d7" text-anchor="middle" letter-spacing="1">11</text>
<text x="1130.5" y="1607.7" font-size="24" fill="#d5d5d7" text-anchor="middle" letter-spacing="1">16</text>
<text x="1297.8" y="1607.7" font-size="24" fill="#d5d5d7" text-anchor="middle" letter-spacing="1">21</text>
<text x="1465.0" y="1607.7" font-size="24" fill="#d5d5d7" text-anchor="middle" letter-spacing="1">26</text>
<text x="1665.7" y="1607.7" font-size="24" fill="#d5d5d7" text-anchor="middle" letter-spacing="1" font-weight="700">8月</text>
<text x="1833.0" y="1607.7" font-size="24" fill="#d5d5d7" text-anchor="middle" letter-spacing="1">6</text>
<text x="2000.2" y="1607.7" font-size="24" fill="#d5d5d7" text-anchor="middle" letter-spacing="1">11</text>
<text x="2167.5" y="1607.7" font-size="24" fill="#d5d5d7" text-anchor="middle" letter-spacing="1">16</text>
<text x="2334.7" y="1607.7" font-size="24" fill="#d5d5d7" text-anchor="middle" letter-spacing="1">21</text>
<text x="2502.0" y="1607.7" font-size="24" fill="#d5d5d7" text-anchor="middle" letter-spacing="1">26</text>
<g fill="none" stroke="#d5eaef" stroke-width="1.9"><polygon points="2666.5,1599 2673.8,1587 2688.2,1587 2695.5,1599 2688.2,1611 2673.8,1611"/><circle cx="2681" cy="1599" r="4"/></g>
<text y="31.7" font-size="30.5" fill="#d5d5d7" xml:space="preserve"><tspan x="9" textLength="106">bitbank</tspan><tspan x="115"> · </tspan><tspan x="142.6" textLength="49.5">1日</tspan><tspan x="191"> · </tspan><tspan x="217" textLength="108.5">btc_jpy</tspan></text>
<circle cx="373" cy="21.7" r="18" fill="#1f3e42"/><circle cx="373" cy="21.7" r="8.3" fill="#009688"/>
<text x="424.6" y="31.7" font-size="26" fill="#d5d5d7" textLength="49.5">始値</text>
<text x="480" y="31.7" font-size="26" fill="#e0564d" textLength="125.5">17492745</text>
<text x="620.6" y="31.7" font-size="26" fill="#d5d5d7" textLength="49.5">高値</text>
<text x="675.5" y="31.7" font-size="26" fill="#e0564d" textLength="125.5">17515985</text>
<text x="817" y="31.7" font-size="26" fill="#d5d5d7" textLength="49.5">安値</text>
<text x="872" y="31.7" font-size="26" fill="#e0564d" textLength="125.5">17285492</text>
<text x="1012" y="31.7" font-size="26" fill="#d5d5d7" textLength="49.5">終値</text>
<text x="1067" y="31.7" font-size="26" fill="#e0564d" textLength="125.5">17429369</text>
<text x="1208" y="31.7" font-size="26" fill="#e0564d" textLength="216">−63377 (−0.36%)</text>
<text x="9" y="82" font-size="26" fill="#d5d5d7" textLength="191.5">Volume (出来高)</text>
<text x="219.5" y="82" font-size="26" fill="#e0564d" textLength="30.5">44</text>
<text x="9" y="130.3" font-size="26" fill="#d5d5d7" textLength="53.7">EMA</text>
<text x="82" y="130.3" font-size="26" fill="#00bcd4" textLength="125.5">17433781</text>
<text x="9" y="178.3" font-size="26" fill="#d5d5d7" textLength="53.7">EMA</text>
<text x="82" y="178.3" font-size="26" fill="#ffeb3b" textLength="125.5">16549877</text>
<text x="9" y="226.3" font-size="26" fill="#d5d5d7" textLength="146.3">一目均衡表®</text>
<text x="174.3" y="226.3" font-size="26" fill="#43a047" textLength="126.5">17429369</text>
<text x="316" y="226.3" font-size="26" fill="#a5d6a7" textLength="126.5">17167709</text>
<text x="458.4" y="226.3" font-size="26" fill="#ef9a9a" textLength="126">16239129</text>
<rect x="9.1" y="244.7" width="55.6" height="40.4" rx="5" fill="none" stroke="#3a3f4b" stroke-width="1.9"/>
<polyline points="29.8,268.6 37,261.8 44.2,268.6" fill="none" stroke="#d6ebf1" stroke-width="2.5" stroke-linecap="round"/>
<circle cx="46.9" cy="1512" r="32.8" fill="#121622" stroke="#4b4e58" stroke-width="2"/>
<path d="M25.7 1501.9 H44.2 V1524 H35.8 V1510.1 H25.7 Z M58.8 1501.9 H69.2 L60.1 1524 H49.8 Z" fill="#fff"/><circle cx="50" cy="1506.3" r="4.05" fill="#fff"/>
</svg></div></body></html>
